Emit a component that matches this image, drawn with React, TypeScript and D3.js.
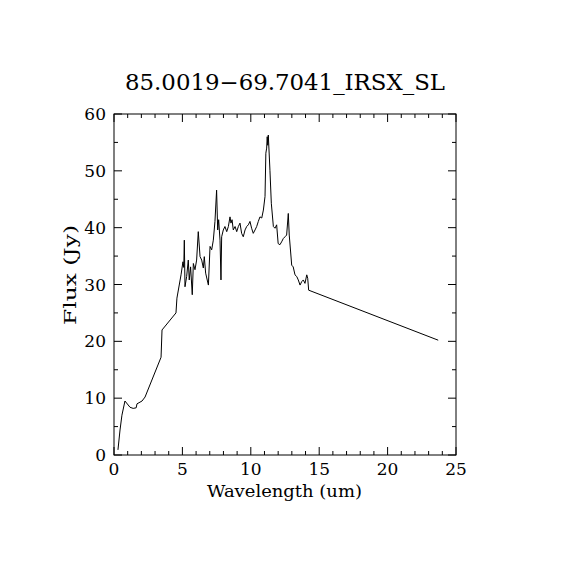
import React from "react";
import * as d3 from "d3";

const title = "85.0019\u221269.7041_IRSX_SL";
const xLabel = "Wavelength (um)";
const yLabel = "Flux (Jy)";
const xTicks = [0, 5, 10, 15, 20, 25];
const yTicks = [0, 10, 20, 30, 40, 50, 60];

const wavelength = [
  0.29, 0.44, 0.58, 0.8, 1.17, 1.4, 1.62, 1.68, 2.05, 2.27, 3.44, 3.51, 4.53, 4.6, 4.9, 5.04,
  5.1, 5.14, 5.19, 5.31, 5.43, 5.5, 5.6, 5.72, 5.8, 5.92, 6.04, 6.16, 6.29, 6.41, 6.53, 6.6,
  6.7, 6.9, 7.02, 7.14, 7.26, 7.38, 7.5, 7.58, 7.65, 7.75, 7.82, 7.87, 7.99, 8.11, 8.24, 8.36,
  8.48, 8.55, 8.63, 8.72, 8.85, 8.97, 9.09, 9.21, 9.33, 9.45, 9.58, 9.7, 9.82, 9.94, 10.06,
  10.18, 10.31, 10.43, 10.55, 10.67, 10.8, 10.92, 11.04, 11.1, 11.16, 11.2, 11.24, 11.28, 11.4,
  11.5, 11.65, 11.77, 11.89, 12.0, 12.13, 12.25, 12.38, 12.5, 12.62, 12.74, 12.81, 12.99, 13.1,
  13.23, 13.36, 13.47, 13.6, 13.72, 13.84, 13.96, 14.09, 14.16, 14.23, 23.7,
];
const flux = [
  0.9, 4.4, 7.0, 9.5, 8.4, 8.2, 8.3, 9.0, 9.5, 10.2, 17.2, 22.0, 25.0, 27.6, 31.7, 34.0,
  33.0, 37.8, 29.6, 31.4, 34.3, 30.8, 33.1, 28.2, 33.7, 32.6, 34.3, 39.3, 34.9, 34.3, 32.9, 34.9,
  32.0, 29.9, 36.7, 36.1, 37.8, 41.1, 46.6, 39.6, 41.4, 37.8, 30.8, 38.4, 39.6, 40.2, 39.3, 40.2,
  41.9, 40.8, 41.4, 39.6, 40.2, 39.3, 40.2, 40.8, 39.0, 38.4, 39.6, 40.2, 40.5, 41.1, 39.9,
  39.0, 39.6, 40.2, 41.1, 41.9, 41.7, 43.1, 45.5, 53.1, 54.0, 56.0, 54.5, 56.3, 50.1,
  44.3, 40.2, 39.9, 40.5, 37.2, 37.0, 37.5, 38.1, 38.4, 38.7, 42.5, 38.7, 33.4, 33.1,
  31.7, 31.4, 30.8, 29.9, 30.5, 30.8, 30.2, 31.7, 31.1, 29.0, 20.2,
];

const W = 570;
const H = 570;
const L = 114;
const R = 456;
const T = 114;
const B = 455;

export default function App() {
  const x = d3.scaleLinear().domain([0, 25]).range([L, R]);
  const y = d3.scaleLinear().domain([0, 60]).range([B, T]);
  const pts: [number, number][] = wavelength.map((w, i) => [w, flux[i]]);
  const line = d3
    .line<[number, number]>()
    .x((d) => x(d[0]))
    .y((d) => y(d[1]));

  const xMinor = d3.range(0, 25.001, 1);
  const yMinor = d3.range(0, 60.001, 5);
  const maj = 8;
  const min = 4;
  const font = "'DejaVu Serif', serif";

  return (
    <svg
      width={W}
      height={H}
      style={{ position: "absolute", left: 0, top: 0, background: "#fff" }}
    >
      <rect x={0} y={0} width={W} height={H} fill="#fff" />
      <rect x={L} y={T} width={R - L} height={B - T} fill="none" stroke="#000" strokeWidth={1} />
      {xMinor.map((v) => {
        const len = v % 5 === 0 ? maj : min;
        return (
          <g key={"xt" + v}>
            <line x1={x(v)} x2={x(v)} y1={B} y2={B - len} stroke="#000" />
            <line x1={x(v)} x2={x(v)} y1={T} y2={T + len} stroke="#000" />
          </g>
        );
      })}
      {yMinor.map((v) => {
        const len = v % 10 === 0 ? maj : min;
        return (
          <g key={"yt" + v}>
            <line x1={L} x2={L + len} y1={y(v)} y2={y(v)} stroke="#000" />
            <line x1={R} x2={R - len} y1={y(v)} y2={y(v)} stroke="#000" />
          </g>
        );
      })}
      {xTicks.map((v) => (
        <text key={"xl" + v} x={x(v)} y={B + 20} textAnchor="middle" fontFamily={font} fontSize={17}>
          {v}
        </text>
      ))}
      {yTicks.map((v) => (
        <text key={"yl" + v} x={L - 8} y={y(v) + 6} textAnchor="end" fontFamily={font} fontSize={17}>
          {v}
        </text>
      ))}
      <text
        x={207}
        y={497}
        textLength={155}
        lengthAdjust="spacingAndGlyphs"
        fontFamily={font}
        fontSize={17}
      >
        {xLabel}
      </text>
      <text
        x={0}
        y={0}
        transform={`translate(76,325) rotate(-90)`}
        textLength={100}
        lengthAdjust="spacingAndGlyphs"
        fontFamily={font}
        fontSize={17}
      >
        {yLabel}
      </text>
      <text
        x={125}
        y={90}
        textLength={320}
        lengthAdjust="spacingAndGlyphs"
        fontFamily={font}
        fontSize={22}
      >
        {title}
      </text>
      <path d={line(pts) || ""} fill="none" stroke="#000" strokeWidth={1} />
    </svg>
  );
}
